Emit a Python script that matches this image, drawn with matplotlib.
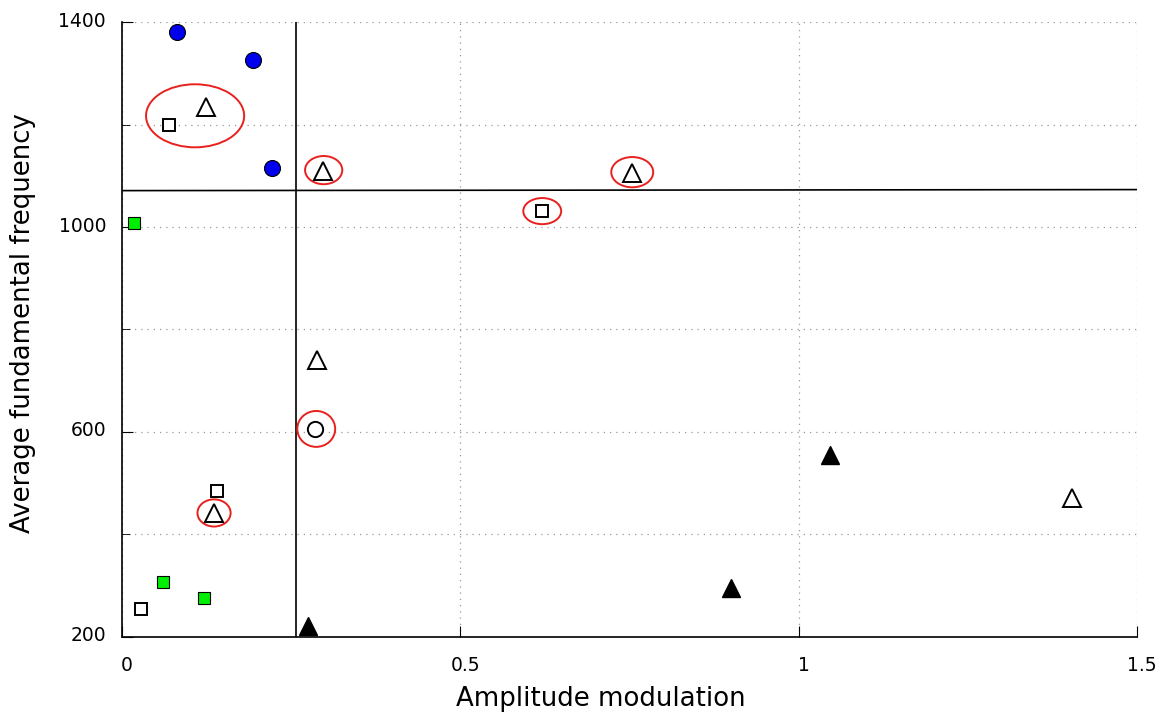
import matplotlib
matplotlib.use("Agg")
import matplotlib.pyplot as plt
from matplotlib.patches import Ellipse
from matplotlib.ticker import MultipleLocator
import matplotlib.transforms as mtransforms

# Data
blue_x = [0.081, 0.194, 0.222]
blue_y = [1380, 1326, 1115]
green_x = [0.018, 0.061, 0.121]
green_y = [1008, 307, 276]
osq_x = [0.069, 0.621, 0.140, 0.028]
osq_y = [1199, 1031, 485, 255]
otri_x = [0.124, 0.297, 0.754, 0.288, 0.136, 1.404]
otri_y = [1234, 1109, 1105, 740, 442, 471]
ocirc_x = [0.285]
ocirc_y = [606]
ftri_x = [0.275, 1.046, 0.900]
ftri_y = [221, 555, 296]
# ellipses: center x, center y, width, height
ell_cx = [0.108, 0.298, 0.754, 0.621, 0.287, 0.136]
ell_cy = [1217, 1111, 1107, 1031, 606, 442]
ell_w = [0.145, 0.055, 0.062, 0.056, 0.056, 0.049]
ell_h = [123, 55, 59, 51, 70, 53]
vline_x = 0.257
hline_x = [0.0, 1.5]
hline_y = [1071, 1073]

xticks = [0, 0.5, 1, 1.5]
xticklabels = ["0", "0.5", "1", "1.5"]
yticks = [200, 600, 1000, 1400]
yticklabels = ["200", "600", "1000", "1400"]

fig = plt.figure(figsize=(11.71, 7.17), dpi=100)
ax = fig.add_axes([0.1042, 0.1116, 0.8668, 0.8577])
ax.set_xlim(0, 1.5)
ax.set_ylim(200, 1400)

for s in ["top", "right"]:
    ax.spines[s].set_visible(False)
for s in ["left", "bottom"]:
    ax.spines[s].set_linewidth(1.2)

ax.set_xticks(xticks)
ax.set_xticklabels(xticklabels)
ax.set_yticks(yticks)
ax.set_yticklabels(yticklabels)
ax.yaxis.set_minor_locator(MultipleLocator(200))
ax.xaxis.set_minor_locator(MultipleLocator(0.5))
ax.tick_params(axis="x", which="major", direction="in", length=8, labelsize=13.5, pad=14)
ax.tick_params(axis="y", which="major", direction="in", length=8, labelsize=13.5, pad=11.5)
ax.tick_params(axis="both", which="minor", direction="in", length=6)
ax.grid(True, which="both", linestyle=(0, (1, 4)), color="#999999", linewidth=0.9)
ax.set_axisbelow(True)

# small offsets of the tick labels as in the reference
for lab in ax.get_xticklabels():
    lab.set_transform(lab.get_transform() + mtransforms.ScaledTranslation(5 / 100, 0, fig.dpi_scale_trans))
for lab in ax.get_yticklabels():
    lab.set_transform(lab.get_transform() + mtransforms.ScaledTranslation(0, 3 / 100, fig.dpi_scale_trans))

ax.axvline(vline_x, color="black", linewidth=1.2, zorder=2)
ax.plot(hline_x, hline_y, color="black", linewidth=1.2, zorder=2)

for cx, cy, w, h in zip(ell_cx, ell_cy, ell_w, ell_h):
    ax.add_patch(Ellipse((cx, cy), w, h, fill=False, edgecolor="#e8201e", linewidth=1.4, zorder=3))

ax.plot(blue_x, blue_y, "o", ms=11.5, mfc="#0000ee", mec="black", mew=0.8, zorder=4)
ax.plot(green_x, green_y, "s", ms=9, mfc="#00ee00", mec="black", mew=0.8, zorder=4)
ax.plot(osq_x, osq_y, "s", ms=9, mfc="white", mec="black", mew=1.4, zorder=4)
ax.plot(otri_x, otri_y, "^", ms=13, mfc="white", mec="black", mew=1.4, zorder=4)
ax.plot(ocirc_x, ocirc_y, "o", ms=11, mfc="white", mec="black", mew=1.4, zorder=4)
ax.plot(ftri_x, ftri_y, "^", ms=13, mfc="black", mec="black", mew=1.0, zorder=4)

ax.set_xlabel("Amplitude modulation", fontsize=18.7)
ax.set_ylabel("Average fundamental frequency", fontsize=18.7, labelpad=16)
ax.xaxis.set_label_coords(0.472, -0.08)
ax.yaxis.label.set_y(0.51)

fig.savefig("out.png", dpi=100)
